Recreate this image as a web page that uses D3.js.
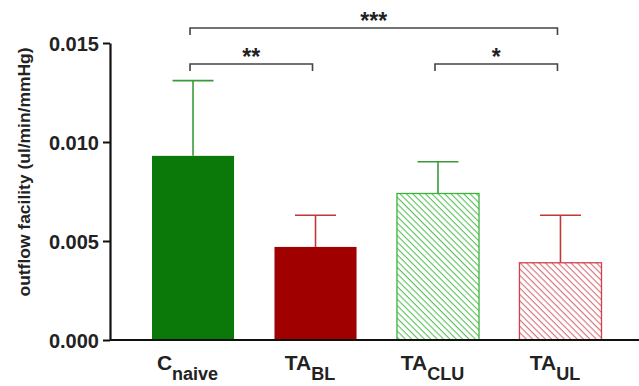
<!DOCTYPE html>
<html>
<head>
<meta charset="utf-8">
<script src="https://cdn.jsdelivr.net/npm/d3@7"></script>
<style>
  body { margin: 0; background: #fff; }
  text { font-family: "Liberation Sans", Arial, sans-serif; font-weight: bold; }
</style>
</head>
<body>
<div id="chart"></div>
<script>
// data
const groups = ["Cnaive", "TABL", "TACLU", "TAUL"];
const mainText = ["C", "TA", "TA", "TA"];
const subText = ["naive", "BL", "CLU", "UL"];
const means = [0.0093, 0.0047, 0.0074, 0.0039];
const errTops = [0.0131, 0.0063, 0.0090, 0.0063];
const yTicks = [0, 0.005, 0.010, 0.015];
const sigPairs = [["Cnaive", "TAUL", "***"], ["Cnaive", "TABL", "**"], ["TACLU", "TAUL", "*"]];
const sigLevels = [0, 1, 1];

const W = 639, H = 386;
const margin = {top: 43, right: 0, bottom: 46, left: 110};
const width = W - margin.left - margin.right,
      height = H - margin.top - margin.bottom;

const fills = ["#0a790a", "#a00000", "url(#hatchGreen)", "url(#hatchRed)"];
const strokes = ["#0a790a", "#a00000", "#3cb43c", "#d0404a"];
const errColors = ["#3a9a3a", "#c03838", "#3a9a3a", "#c03838"];

let svg = d3.select("#chart").append("svg")
  .attr("width", W).attr("height", H);

// hatch patterns
let defs = svg.append("defs");
[["hatchGreen", "#5cbf5c"], ["hatchRed", "#d8707a"]].forEach(function(p) {
  let pat = defs.append("pattern")
    .attr("id", p[0])
    .attr("patternUnits", "userSpaceOnUse")
    .attr("width", 4.5).attr("height", 4.5)
    .attr("patternTransform", "rotate(45)");
  pat.append("rect").attr("width", 4.5).attr("height", 4.5).attr("fill", "#fff");
  pat.append("line")
    .attr("x1", 0).attr("y1", 0).attr("x2", 4.5).attr("y2", 0)
    .attr("stroke", p[1]).attr("stroke-width", 2.2);
});

let g = svg.append("g")
  .attr("transform", "translate(" + margin.left + "," + margin.top + ")");

let x = d3.scaleBand()
  .domain(groups)
  .range([42, 491.5])
  .paddingInner(0.33)
  .paddingOuter(0);

let y = d3.scaleLinear()
  .domain([0, 0.015])
  .range([height, 0]);

// error bars (drawn behind bars)
groups.forEach(function(d, i) {
  let cx = x(d) + x.bandwidth() / 2;
  g.append("line")
    .attr("x1", cx).attr("x2", cx)
    .attr("y1", y(means[i])).attr("y2", y(errTops[i]))
    .attr("stroke", errColors[i]).attr("stroke-width", 1.6);
  g.append("line")
    .attr("x1", cx - 20.5).attr("x2", cx + 20.5)
    .attr("y1", y(errTops[i])).attr("y2", y(errTops[i]))
    .attr("stroke", errColors[i]).attr("stroke-width", 1.6);
});

// bars
g.selectAll("rect.bar")
  .data(groups)
  .enter().append("rect")
  .attr("class", "bar")
  .attr("x", function(d) { return x(d); })
  .attr("y", function(d, i) { return y(means[i]); })
  .attr("width", x.bandwidth())
  .attr("height", function(d, i) { return height - y(means[i]); })
  .attr("fill", function(d, i) { return fills[i]; })
  .attr("stroke", function(d, i) { return strokes[i]; })
  .attr("stroke-width", function(d, i) { return i < 2 ? 0 : 1.3; });

// Y axis
let yAxis = g.append("g")
  .call(d3.axisLeft(y).tickValues(yTicks).tickFormat(d3.format(".3f")).tickSize(7).tickSizeOuter(0));
yAxis.select(".domain").attr("stroke", "#111").attr("stroke-width", 2.2);
yAxis.selectAll(".tick line").attr("stroke", "#111").attr("stroke-width", 2);
yAxis.selectAll(".tick text")
  .attr("x", -11).attr("dy", "0.36em")
  .attr("font-size", 20).attr("fill", "#222")
  .style("font-family", "'Liberation Sans', Arial, sans-serif").style("font-weight", "bold");

// X axis line
g.append("line")
  .attr("x1", 0).attr("x2", W - margin.left)
  .attr("y1", height).attr("y2", height)
  .attr("stroke", "#111").attr("stroke-width", 2.2);

// X labels with subscripts
groups.forEach(function(d, i) {
  let t = g.append("text")
    .attr("x", x(d) + x.bandwidth() / 2 - 5.5)
    .attr("y", height + 30)
    .attr("text-anchor", "middle")
    .attr("fill", "#222")
    .attr("font-size", 21);
  t.append("tspan").text(mainText[i]);
  t.append("tspan").attr("dy", 10).attr("font-size", 18).text(subText[i]);
});

// Y label
svg.append("text")
  .attr("transform", "translate(30,172) rotate(-90)")
  .attr("text-anchor", "middle")
  .attr("font-size", 16.5)
  .attr("textLength", 249)
  .attr("lengthAdjust", "spacingAndGlyphs")
  .attr("fill", "#222")
  .text("outflow facility (ul/min/mmHg)");

// significance brackets
let levelY = [28, 64];
sigPairs.forEach(function(p, i) {
  let x1 = margin.left + x(p[0]) + x.bandwidth() / 2 - 3;
  let x2 = margin.left + x(p[1]) + x.bandwidth() / 2 - 3;
  let yy = levelY[sigLevels[i]];
  svg.append("path")
    .attr("d", "M" + x1 + "," + (yy + 7) + "V" + yy + "H" + x2 + "V" + (yy + 7))
    .attr("fill", "none")
    .attr("stroke", "#444")
    .attr("stroke-width", 1.6);
  svg.append("text")
    .attr("x", (x1 + x2) / 2)
    .attr("y", yy + 1)
    .attr("text-anchor", "middle")
    .attr("font-size", 23)
    .attr("fill", "#222")
    .text(p[2]);
});
</script>
</body>
</html>
